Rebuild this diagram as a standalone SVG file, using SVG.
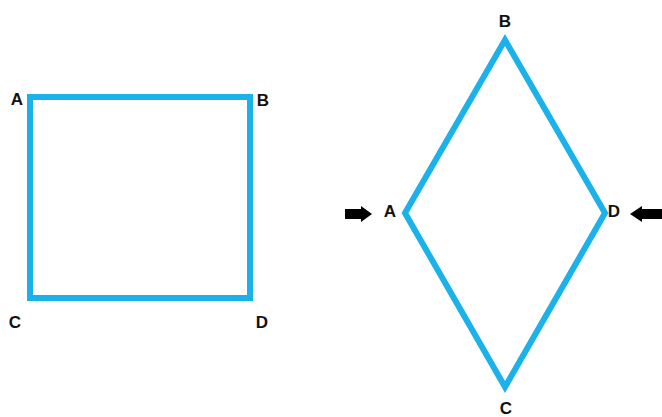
<svg xmlns="http://www.w3.org/2000/svg" width="662" height="417" viewBox="0 0 662 417">
<defs>
<style>
.shape{fill:none;stroke:#1bb1ea;stroke-width:6;stroke-linejoin:miter}
.lbl{font-family:"Liberation Sans",Arial,sans-serif;font-weight:bold;font-size:17px;fill:#111;text-anchor:middle}
.arr{fill:#000}
</style>
</defs>
<rect width="662" height="417" fill="#fff"/>
<g id="square">
<rect class="shape" x="30" y="97" width="220" height="201"/>
</g>
<g id="square-A"><text class="lbl" x="17" y="105">A</text></g>
<g id="square-B"><text class="lbl" x="263" y="106">B</text></g>
<g id="square-C"><text class="lbl" x="15" y="328">C</text></g>
<g id="square-D"><text class="lbl" x="262" y="328">D</text></g>
<g id="rhombus">
<polygon class="shape" points="505,40 605,213 505,387 405,213"/>
</g>
<g id="rhombus-B"><text class="lbl" x="505" y="27">B</text></g>
<g id="rhombus-A"><text class="lbl" x="390" y="217">A</text></g>
<g id="rhombus-D"><text class="lbl" x="614" y="217">D</text></g>
<g id="rhombus-C"><text class="lbl" x="506" y="414">C</text></g>
<g id="connectors">
<polygon class="arr" points="345,209 361,209 361,206 372,214 361,222 361,219 345,219"/>
<polygon class="arr" points="662,209 642,209 642,206 630,214 642,222 642,219 662,219"/>
</g>
</svg>
